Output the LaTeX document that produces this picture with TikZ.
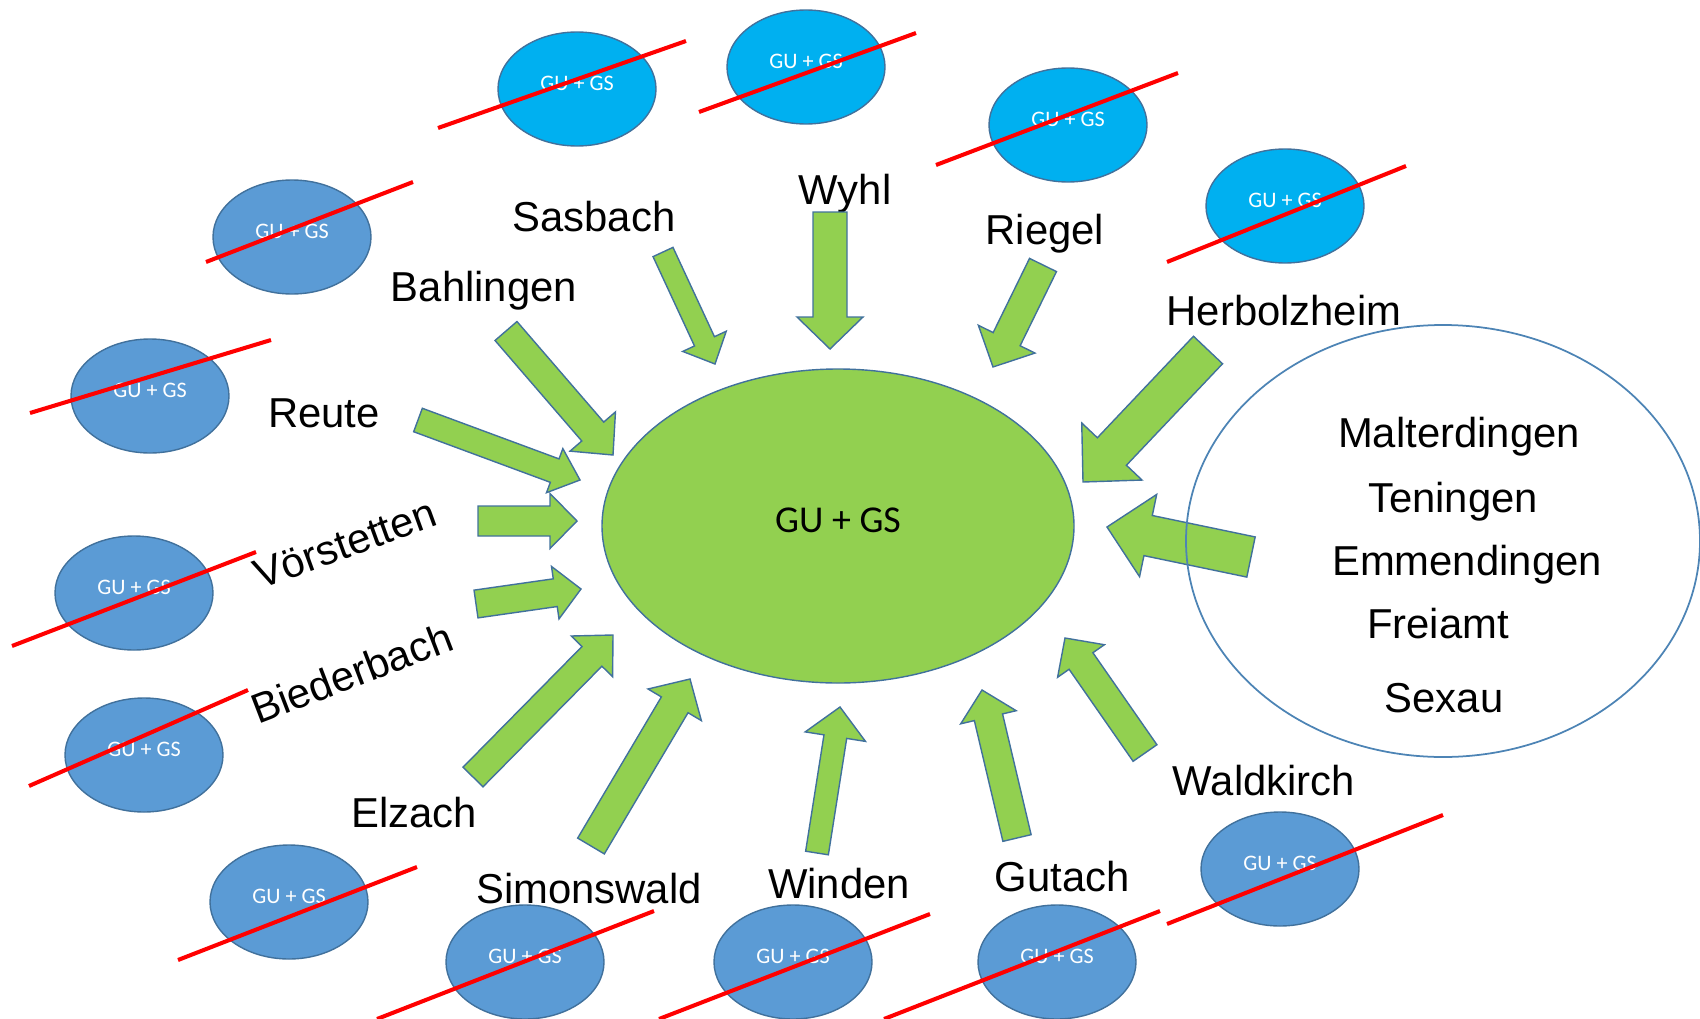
\documentclass[tikz,border=0pt]{standalone}
\usepackage{fontspec}
\setmainfont{Liberation Sans}
\newfontfamily\calfont{Carlito}
\usepackage{tikz}
\usetikzlibrary{positioning}
\usetikzlibrary{shapes.geometric}
\usetikzlibrary{calc}

\definecolor{grfill}{HTML}{92D050}
\definecolor{edgeblue}{HTML}{41719C}
\definecolor{cyanfill}{HTML}{00B0F0}
\definecolor{steelfill}{HTML}{5B9BD5}

% block arrow: tail, tip, half shaft, half head, head length (cm)
\newcommand{\garrow}[5]{%
  \coordinate (hb) at ($(#2)!#5cm!(#1)$);
  \draw [blockarrow] ($(#1)!#3cm!90:(#2)$) -- ($(hb)!#3cm!90:(#2)$)
    -- ($(hb)!#4cm!90:(#2)$) -- (#2) -- ($(hb)!#4cm!-90:(#2)$)
    -- ($(hb)!#3cm!-90:(#2)$) -- ($(#1)!#3cm!-90:(#2)$) -- cycle;
}

\begin{document}
\begin{tikzpicture}
  [
    gugs/.style={ellipse, draw=edgeblue, line width=0.4pt, inner sep=0pt,
    minimum width=1.58cm, minimum height=1.14cm, text=white,
    font=\calfont\fontsize{6.3}{7}\selectfont},
    strike/.style={draw=red, line width=1.15pt},
    town/.style={anchor=base, inner sep=0pt, font=\fontsize{11.9}{14}\selectfont},
    blockarrow/.style={fill=grfill, draw=edgeblue, line width=0.4pt, line join=miter}
  ]
  \useasboundingbox (0,0) rectangle (17,-10.19);

  % crossed out sites
  \node (c1) at ( 5.77,-0.89) [gugs, fill=cyanfill]  {\raisebox{0.11cm}{GU + GS}};
  \node (c2) at ( 8.06,-0.67) [gugs, fill=cyanfill]  {\raisebox{0.11cm}{GU + GS}};
  \node (c3) at (10.68,-1.25) [gugs, fill=cyanfill]  {\raisebox{0.11cm}{GU + GS}};
  \node (c4) at (12.85,-2.06) [gugs, fill=cyanfill]  {\raisebox{0.11cm}{GU + GS}};
  \node (b1) at ( 2.92,-2.37) [gugs, fill=steelfill] {\raisebox{0.11cm}{GU + GS}};
  \node (b2) at ( 1.50,-3.96) [gugs, fill=steelfill] {\raisebox{0.11cm}{GU + GS}};
  \node (b3) at ( 1.34,-5.93) [gugs, fill=steelfill] {\raisebox{0.11cm}{GU + GS}};
  \node (b4) at ( 1.44,-7.55) [gugs, fill=steelfill] {\raisebox{0.11cm}{GU + GS}};
  \node (b5) at ( 2.89,-9.02) [gugs, fill=steelfill] {\raisebox{0.11cm}{GU + GS}};
  \node (b6) at ( 5.25,-9.62) [gugs, fill=steelfill] {\raisebox{0.11cm}{GU + GS}};
  \node (b7) at ( 7.93,-9.62) [gugs, fill=steelfill] {\raisebox{0.11cm}{GU + GS}};
  \node (b8) at (10.57,-9.62) [gugs, fill=steelfill] {\raisebox{0.11cm}{GU + GS}};
  \node (b9) at (12.80,-8.69) [gugs, fill=steelfill] {\raisebox{0.11cm}{GU + GS}};

  \draw [strike] ($(c1)+(-1.39,-0.39)$) -- ($(c1)+(1.09,0.48)$);
  \draw [strike] ($(c2)+(-1.07,-0.45)$) -- ($(c2)+(1.10,0.34)$);
  \draw [strike] ($(c3)+(-1.32,-0.40)$) -- ($(c3)+(1.10,0.52)$);
  \draw [strike] ($(c4)+(-1.18,-0.56)$) -- ($(c4)+(1.21,0.40)$);
  \draw [strike] ($(b1)+(-0.86,-0.25)$) -- ($(b1)+(1.21,0.55)$);
  \draw [strike] ($(b2)+(-1.20,-0.17)$) -- ($(b2)+(1.21,0.56)$);
  \draw [strike] ($(b3)+(-1.22,-0.53)$) -- ($(b3)+(1.22,0.41)$);
  \draw [strike] ($(b4)+(-1.15,-0.31)$) -- ($(b4)+(1.04,0.65)$);
  \draw [strike] ($(b5)+(-1.11,-0.58)$) -- ($(b5)+(1.28,0.35)$);
  \draw [strike] ($(b6)+(-1.48,-0.57)$) -- ($(b6)+(1.29,0.51)$);
  \draw [strike] ($(b7)+(-1.34,-0.57)$) -- ($(b7)+(1.37,0.48)$);
  \draw [strike] ($(b8)+(-1.73,-0.57)$) -- ($(b8)+(1.03,0.51)$);
  \draw [strike] ($(b9)+(-1.13,-0.55)$) -- ($(b9)+(1.63,0.54)$);

  % places
  \node (sasbach)     at ( 5.94,-2.31) [town] {Sasbach};
  \node (wyhl)        at ( 8.45,-2.04) [town] {Wyhl};
  \node (riegel)      at (10.45,-2.44) [town] {Riegel};
  \node (herbolzheim) at (12.84,-3.25) [town] {Herbolzheim};
  \node (bahlingen)   at ( 4.84,-3.01) [town] {Bahlingen};
  \node (reute)       at ( 3.24,-4.27) [town] {Reute};
  \node (voerstetten) at ( 3.50,-5.57) [town, rotate=20] {Vörstetten};
  \node (biederbach)  at ( 3.57,-6.87) [town, rotate=21] {Biederbach};
  \node (elzach)      at ( 4.14,-8.27) [town] {Elzach};
  \node (simonswald)  at ( 5.89,-9.03) [town] {Simonswald};
  \node (winden)      at ( 8.39,-8.98) [town] {Winden};
  \node (gutach)      at (10.62,-8.91) [town] {Gutach};
  \node (waldkirch)   at (12.64,-7.95) [town] {Waldkirch};

  % arrows into the centre
  \garrow{6.63,-2.52}{7.15,-3.64}{0.11}{0.24}{0.25}
  \garrow{8.30,-2.12}{8.30,-3.49}{0.17}{0.33}{0.32}
  \garrow{10.43,-2.65}{9.93,-3.67}{0.15}{0.315}{0.31}
  \garrow{12.08,-3.50}{10.83,-4.82}{0.20}{0.415}{0.42}
  \garrow{5.06,-3.31}{6.13,-4.55}{0.145}{0.30}{0.31}
  \garrow{4.18,-4.20}{5.80,-4.80}{0.125}{0.235}{0.27}
  \garrow{4.78,-5.21}{5.77,-5.21}{0.15}{0.275}{0.27}
  \garrow{4.76,-6.04}{5.81,-5.89}{0.14}{0.265}{0.26}
  \garrow{4.73,-7.77}{6.13,-6.35}{0.14}{0.29}{0.30}
  \garrow{5.91,-8.46}{6.90,-6.79}{0.155}{0.31}{0.30}
  \garrow{8.17,-8.53}{8.40,-7.07}{0.115}{0.305}{0.30}
  \garrow{10.17,-8.38}{9.82,-6.90}{0.145}{0.285}{0.28}
  \garrow{11.45,-7.53}{10.65,-6.38}{0.145}{0.285}{0.28}
  \garrow{12.51,-5.57}{11.07,-5.27}{0.205}{0.42}{0.42}

  % centre and merged group
  \node (centre) at (8.38,-5.26) [ellipse, fill=grfill, draw=edgeblue, line width=0.4pt,
    minimum width=4.72cm, minimum height=3.14cm, inner sep=0pt,
    font=\calfont\fontsize{10.8}{12}\selectfont] {\raisebox{0.12cm}{GU + GS}};
  \node (merged) at (14.43,-5.41) [ellipse, draw=steelfill!85!black, line width=0.5pt,
    minimum width=5.14cm, minimum height=4.32cm, inner sep=0pt] {};

  \node (malterdingen) at (14.59,-4.47) [town] {Malterdingen};
  \node (teningen)     at (14.53,-5.12) [town] {Teningen};
  \node (emmendingen)  at (14.67,-5.75) [town] {Emmendingen};
  \node (freiamt)      at (14.38,-6.38) [town] {Freiamt};
  \node (sexau)        at (14.44,-7.12) [town] {Sexau};
\end{tikzpicture}
\end{document}
